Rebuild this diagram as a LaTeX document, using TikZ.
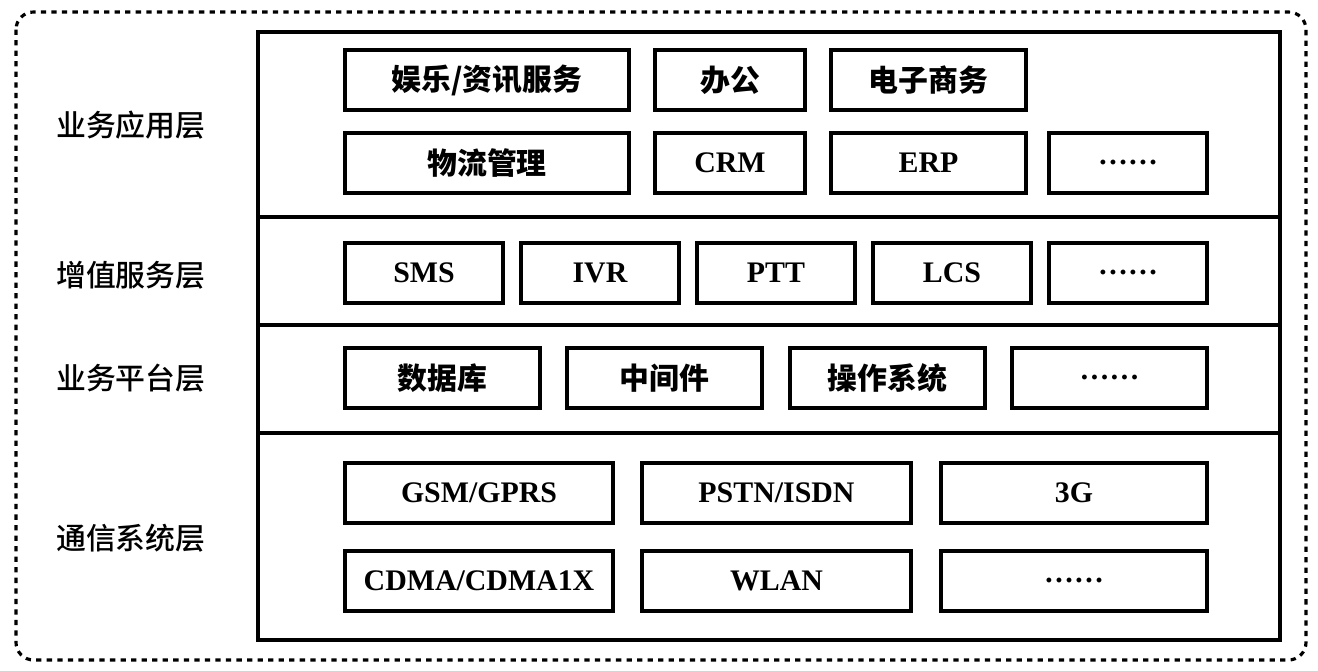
\documentclass[tikz,border=0pt]{standalone}
\usepackage{fontspec}
\setmainfont{Liberation Serif}
\newfontfamily\cjk{Noto Sans CJK SC Medium}
\usetikzlibrary{positioning}

\tikzset{
  blk/.style={draw,line width=2pt,inner sep=0pt,font=\bfseries\fontsize{17}{19}\selectfont},
  layername/.style={anchor=west,font=\cjk\fontsize{17}{19}\selectfont}
}

\begin{document}
\begin{tikzpicture}[x=0.02cm,y=-0.02cm]
\useasboundingbox (0,0) rectangle (1318,671);
\draw[dashed,line width=1.8pt,rounded corners=10pt] (16,12) rectangle (1306,660);
\draw[line width=2pt] (258,32) rectangle (1280,640);
% layer borders
\foreach \y in {217,325,433} {
  \draw[line width=2pt] (258,\y) -- (1280,\y);
}
% layer names
\node[layername] (app) at (50,125) {业务应用层};
\node[layername] (vas) at (50,275) {增值服务层};
\node[layername] (plat) at (50,378) {业务平台层};
\node[layername] (comm) at (50,538) {通信系统层};
% boxes: name/x1/x2/y1/y2/text
\foreach \n/\xa/\xb/\ya/\yb/\t in {%
  ent/345/629/50/110/{\cjk 娱乐/资讯服务},off/655/805/50/110/{\cjk 办公},ecom/831/1026/50/110/{\cjk 电子商务},
  log/345/629/133/193/{\cjk 物流管理},crm/655/805/133/193/CRM,erp/831/1026/133/193/ERP,appx/1049/1207/133/193/……,
  sms/345/503/243/303/SMS,ivr/521/679/243/303/IVR,ptt/697/855/243/303/PTT,lcs/873/1031/243/303/LCS,vasx/1049/1207/243/303/……,
  db/345/540/348/408/{\cjk 数据库},mw/567/762/348/408/{\cjk 中间件},os/790/985/348/408/{\cjk 操作系统},platx/1012/1207/348/408/……,
  gsm/345/613/463/523/{GSM/GPRS},pstn/642/911/463/523/{PSTN/ISDN},tg/941/1207/463/523/3G,
  cdma/345/613/551/611/{CDMA/CDMA1X},wlan/642/911/551/611/WLAN,commx/941/1207/551/611/……} {
  \node[blk,minimum width={(\xb-\xa)*0.02cm},minimum height={(\yb-\ya)*0.02cm}]
    (\n) at ({(\xa+\xb)/2},{(\ya+\yb)/2}) {\t};
}
\end{tikzpicture}
\end{document}
